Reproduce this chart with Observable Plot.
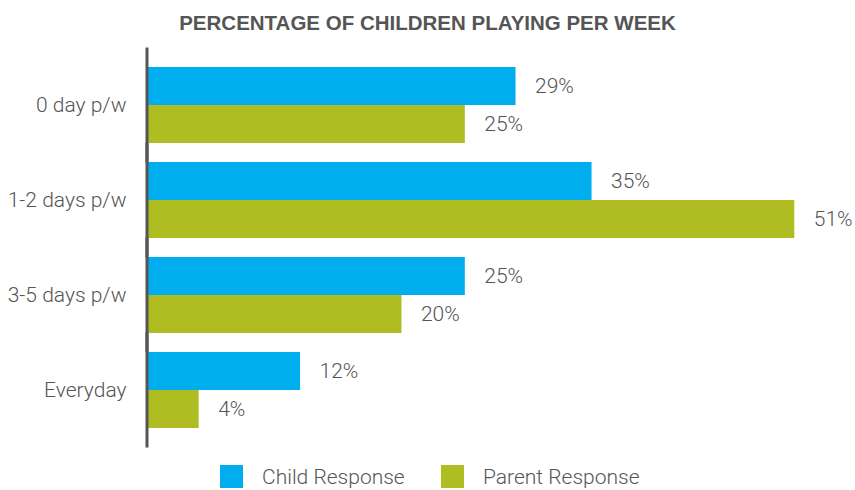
<!DOCTYPE html>
<html>
<head>
<meta charset="utf-8">
<script src="https://cdn.jsdelivr.net/npm/d3@7"></script>
<script src="https://cdn.jsdelivr.net/npm/@observablehq/plot@0.6"></script>
<style>
  html, body { margin: 0; padding: 0; background: #fff; }
  body { width: 855px; height: 490px; overflow: hidden; font-family: Roboto, "Liberation Sans", sans-serif; }
  #title { height: 40px; line-height: 45px; text-align: center; font-family: "Liberation Sans", Arial, sans-serif; font-weight: bold; font-size: 20.5px; color: #555; }
  #chart svg { display: block; }
  #legend { position: relative; height: 35px; }
  .item { position: absolute; top: 10px; display: flex; align-items: center; height: 23px; }
  .sw { width: 23px; height: 23px; margin-right: 19px; flex: none; }
  .lab { font-size: 21px; font-weight: 300; color: #555; white-space: nowrap; }
</style>
</head>
<body>
<div id="title">PERCENTAGE OF CHILDREN PLAYING PER WEEK</div>
<div id="chart"></div>
<div id="legend"></div>
<script>
const categories = ["0 day p/w", "1-2 days p/w", "3-5 days p/w", "Everyday"];
const series = ["Child Response", "Parent Response"];
const childValues = [29, 35, 25, 12];
const parentValues = [25, 51, 20, 4];
const colors = ["#00AEEF", "#AFBD22"];

const data = [];
categories.forEach((c, i) => {
  data.push({category: c, series: series[0], value: childValues[i]});
  data.push({category: c, series: series[1], value: parentValues[i]});
});

const plot = Plot.plot({
  width: 855,
  height: 415,
  marginLeft: 148,
  marginRight: 10,
  marginTop: 8,
  marginBottom: 8,
  style: {fontFamily: "Roboto, 'Liberation Sans', sans-serif", fontSize: "21px", color: "#555", background: "#fff"},
  x: {domain: [0, 55], axis: null},
  y: {domain: series, padding: 0, axis: null},
  fy: {domain: categories, paddingInner: 0.2, paddingOuter: 0.2, label: null},
  color: {domain: series, range: colors},
  marks: [
    Plot.barX(data, {fy: "category", y: "series", x: "value", fill: "series"}),
    Plot.text(data, {fy: "category", y: "series", x: "value", text: d => d.value + "%", dx: 19, textAnchor: "start", fill: "#555", fontSize: 21, fontWeight: 300}),
    Plot.ruleX([0], {stroke: "#555", strokeWidth: 3, dx: -1.5, insetTop: -19.5, insetBottom: -19.5}),
    Plot.axisFy({anchor: "left", tickSize: 0, tickPadding: 22, fontSize: 21, fontWeight: 300, label: null, fill: "#555"})
  ]
});
document.getElementById("chart").appendChild(plot);

const legend = document.getElementById("legend");
const lefts = [220, 441];
series.forEach((s, i) => {
  const item = document.createElement("div");
  item.className = "item";
  item.style.left = lefts[i] + "px";
  item.innerHTML = `<div class="sw" style="background:${colors[i]}"></div><span class="lab">${s}</span>`;
  legend.appendChild(item);
});
</script>
</body>
</html>
